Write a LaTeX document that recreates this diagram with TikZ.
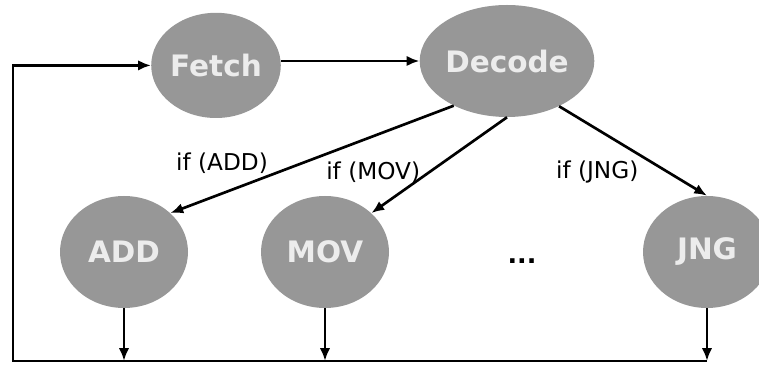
\documentclass[tikz,border=0pt]{standalone}
\usepackage{fontspec}
\setmainfont{DejaVu Sans}
\usetikzlibrary{arrows.meta,shapes.geometric}

\definecolor{stategray}{RGB}{151,151,151}
\definecolor{statetext}{RGB}{236,236,236}

\begin{document}
\begin{tikzpicture}[
  state/.style={
    ellipse, fill=stategray, inner sep=0pt,
    minimum width=3.2cm, minimum height=2.8cm,
    text=statetext, font=\fontsize{21}{24}\selectfont\bfseries
  },
  cond/.style={font=\fontsize{16.5}{19}\selectfont},
  flow/.style={-{Latex[length=3.2mm,width=2.6mm]}, line width=1.9pt}
]
\useasboundingbox (0,0) rectangle (18.975,9.125);

% ================= STATES =================
\node[state, minimum height=2.63cm] (fetch) at (5.4,7.49) {Fetch};
\node[state] (decode) at (12.675,7.6) {Decode};

\node[state] (add) at (3.1,2.825) {ADD};
\node[state] (mov) at (8.125,2.825) {MOV};
\node[state] (jng) at (17.675,2.825) {JNG};

\node[font=\fontsize{18}{20}\selectfont\bfseries] (dots) at (13.05,2.6) {...};

% ================= DECODE BRANCHES =================
\draw[flow] (fetch.east |- decode.west) -- (decode.west);

\draw[flow] (decode.220) -- (add.40);
\draw[flow] (decode.south) -- (mov.40);
\draw[flow] (decode.319) -- (jng.north);

\node[cond] (ifadd) at (5.55,5.05) {if (ADD)};
\node[cond] (ifmov) at (9.33,4.82) {if (MOV)};
\node[cond] (ifjng) at (14.93,4.82) {if (JNG)};

% ================= BACK TO FETCH =================
\coordinate (botleft) at (0.325,0.1);
\coordinate (botright) at (jng.south |- botleft);

\draw[flow] (add.south) -- (add.south |- botleft);
\draw[flow] (mov.south) -- (mov.south |- botleft);
\draw[flow] (jng.south) -- (botright);

\draw[flow] (botright) -- (botleft) |- (fetch.west);

\end{tikzpicture}
\end{document}
